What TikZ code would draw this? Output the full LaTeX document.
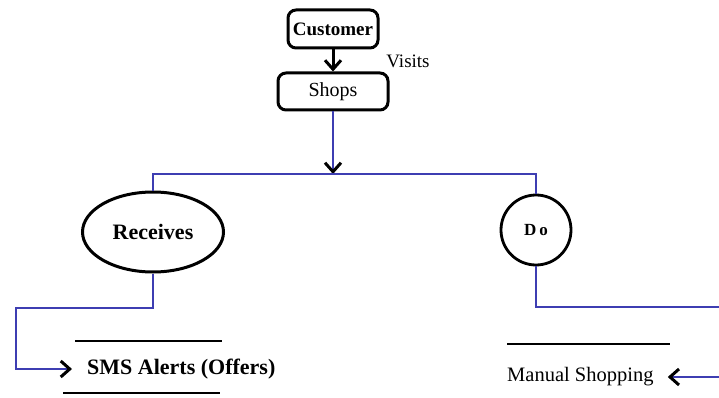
\documentclass[tikz,border=0pt]{standalone}
\usepackage{fontspec}
\setmainfont{Liberation Serif}
\usetikzlibrary{arrows.meta}
\usetikzlibrary{shapes.geometric}
\definecolor{flowblue}{RGB}{62,62,178}

\begin{document}
\begin{tikzpicture}[x=1pt,y=-1pt,
	box/.style={draw,line width=3pt,rounded corners=8pt,inner sep=0pt},
	flow/.style={draw=flowblue,line width=2.8pt},
	tip/.style={-{Straight Barb[black,length=9pt,width=16pt,line width=3pt]}},
	store/.style={line width=2.8pt}]
\useasboundingbox (0,0) rectangle (719,398);
\clip (0,0) rectangle (719,398);

% top: customer visits shops
\node[box,minimum width=90pt,minimum height=38pt,font=\fontsize{19}{20}\selectfont\bfseries] (cust) at (333,29) {Customer};
\node[box,minimum width=110pt,minimum height=37pt,font=\fontsize{20}{22}\selectfont] (shops) at (333,91.5) {Shops};
\node[font=\fontsize{19}{22}\selectfont] (visits) at (408,61) {Visits};
\draw [line width=3pt,tip] (cust) to (shops);

% split
\coordinate (junc) at (333,174);
\node[draw,ellipse,line width=3pt,minimum width=141pt,minimum height=80pt,inner sep=0pt,font=\fontsize{22}{24}\selectfont\bfseries] (recv) at (153,232) {Receives};
\node[draw,circle,line width=2.8pt,minimum size=70pt,inner sep=0pt,font=\fontsize{17}{18}\selectfont\bfseries] (do) at (536,230) {D\,o};
\draw [flow,tip] (shops.south) to (junc);
\draw [flow] (recv.north) |- (junc) -| (do.north);

% stores
\node[anchor=west,inner sep=0pt,font=\fontsize{22}{24}\selectfont\bfseries] (sms) at (87,369) {SMS Alerts (Offers)};
\draw [store] ([shift={(-12,-28)}]sms.west) -- ++(147,0);
\draw [store] ([shift={(-24,24)}]sms.west) -- ++(157,0);
\node[anchor=west,inner sep=0pt,font=\fontsize{20.5}{22}\selectfont] (manual) at (507,377) {Manual Shopping};
\draw [store] ([shift={(0,-33)}]manual.west) -- ++(163,0);

% lower connectors
\coordinate (lbend) at (16,308);
\coordinate (rbend) at (730,307);
\draw [flow,tip] (recv.south) |- (lbend) |- ([xshift=-15pt]sms.west);
\draw [flow,tip] (do.south) |- (rbend) |- ([xshift=14pt]manual.east);

\end{tikzpicture}
\end{document}
